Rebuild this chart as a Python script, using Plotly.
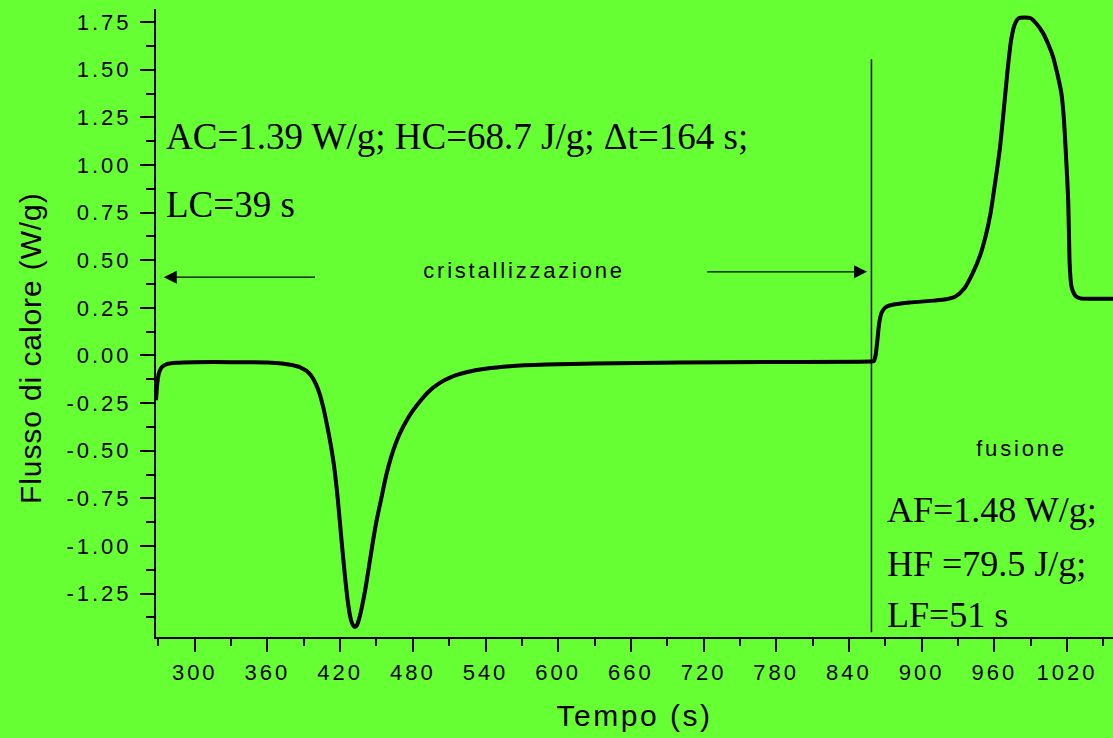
import plotly.graph_objects as go

# DSC trace: heat flow (W/g) versus time (s) — crystallisation then fusion
tempo = [
    268, 269, 270.5, 273, 277, 285, 300, 330, 360, 372, 380, 387, 392, 396, 400,
    403, 406, 409, 412, 415, 418, 421, 424, 426.5, 429, 431, 432.5, 434, 436,
    438, 441, 444, 447, 450, 454, 458, 462, 466, 470, 475, 480, 486, 493, 502,
    512, 525, 540, 560, 590, 630, 700, 780, 858, 860.5, 862, 863.5, 865, 867,
    870, 875, 890, 910, 920, 928, 935, 942, 948, 953, 957, 961, 964.5, 968, 971,
    974, 977, 980, 985, 990, 995, 1000, 1004.5, 1008.5, 1012, 1015.4, 1017,
    1018.2, 1019.6, 1021, 1022.3, 1023.5, 1025, 1027.5, 1031, 1040, 1058,
]
flusso = [
    -0.235, -0.15, -0.09, -0.06, -0.045, -0.038, -0.035, -0.035, -0.037, -0.042,
    -0.05, -0.062, -0.08, -0.105, -0.15, -0.2, -0.27, -0.36, -0.46, -0.58, -0.75,
    -0.96, -1.16, -1.3, -1.39, -1.42, -1.425, -1.415, -1.375, -1.32, -1.22, -1.1,
    -0.98, -0.87, -0.75, -0.63, -0.535, -0.46, -0.4, -0.34, -0.29, -0.24, -0.19,
    -0.145, -0.112, -0.087, -0.07, -0.057, -0.048, -0.042, -0.037, -0.034, -0.032,
    -0.03, 0.0, 0.08, 0.17, 0.225, 0.252, 0.265, 0.278, 0.288, 0.295, 0.31, 0.35,
    0.43, 0.52, 0.63, 0.75, 0.92, 1.08, 1.3, 1.5, 1.66, 1.74, 1.77, 1.775, 1.77,
    1.74, 1.695, 1.635, 1.568, 1.48, 1.376, 1.28, 1.166, 1.0, 0.816, 0.47, 0.37,
    0.335, 0.31, 0.3, 0.298, 0.298,
]

y_tick_vals = [-1.25, -1.0, -0.75, -0.5, -0.25, 0.0, 0.25, 0.5, 0.75, 1.0, 1.25, 1.5, 1.75]
y_tick_text = ["-1.25", "-1.00", "-0.75", "-0.50", "-0.25", "0.00", "0.25", "0.50",
               "0.75", "1.00", "1.25", "1.50", "1.75"]

x_range = [268, 1058]
y_range = [-1.478, 1.819]

# boundary between the two stages
separatore_x = 858.6
separatore_y = [-1.453, 1.555]

BG = "#66ff33"
SANS = "Liberation Sans, Arial, sans-serif"
SERIF = "Liberation Serif, Times New Roman, serif"

fig = go.Figure()
fig.add_trace(go.Scatter(
    x=tempo, y=flusso, mode="lines",
    line=dict(color="black", width=4, shape="spline", smoothing=0.6),
    hoverinfo="skip", showlegend=False,
))
fig.add_trace(go.Scatter(
    x=[separatore_x, separatore_x], y=separatore_y, mode="lines",
    line=dict(color="black", width=1.5), hoverinfo="skip", showlegend=False,
))

axis_common = dict(
    showgrid=False, zeroline=False, showline=True, linecolor="black", linewidth=2,
    ticks="outside", tickwidth=2, tickcolor="black", mirror=False,
    tickfont=dict(family=SANS, size=22, color="black"),
)

fig.update_xaxes(
    range=x_range, tickmode="linear", tick0=0, dtick=60, ticklen=13,
    minor=dict(ticks="outside", dtick=30, tick0=0, ticklen=7, tickwidth=2, tickcolor="black"),
    title=dict(text="Tempo (s)", font=dict(family=SANS, size=30, color="black"), standoff=21),
    ticklabelstandoff=2,
    **axis_common,
)
fig.update_yaxes(
    range=y_range, tickmode="array", tickvals=y_tick_vals, ticktext=y_tick_text,
    ticklen=14,
    minor=dict(ticks="outside", dtick=0.125, tick0=0, ticklen=8, tickwidth=2, tickcolor="black"),
    ticklabelstandoff=4,
    **axis_common,
)

annotations = [
    dict(x=275, y=1.152, text="AC=1.39 W/g; HC=68.7 J/g; \u0394t=164 s;",
         font=dict(family=SERIF, size=37, color="black"), xanchor="left", yanchor="middle"),
    dict(x=275, y=0.792, text="LC=39 s",
         font=dict(family=SERIF, size=37, color="black"), xanchor="left", yanchor="middle"),
    dict(x=571.9, y=0.448, text="cristallizzazione",
         font=dict(family=SANS, size=22, color="black"), xanchor="center", yanchor="middle"),
    dict(x=982.7, y=-0.489, text="fusione",
         font=dict(family=SANS, size=22, color="black"), xanchor="center", yanchor="middle"),
    dict(x=869.5, y=-0.8125, text="AF=1.48 W/g;",
         font=dict(family=SERIF, size=36, color="black"), xanchor="left", yanchor="middle"),
    dict(x=869.5, y=-1.096, text="HF =79.5 J/g;",
         font=dict(family=SERIF, size=36, color="black"), xanchor="left", yanchor="middle"),
    dict(x=869.5, y=-1.364, text="LF=51 s",
         font=dict(family=SERIF, size=36, color="black"), xanchor="left", yanchor="middle"),
]
for a in annotations:
    a.update(xref="x", yref="y", showarrow=False)

# stage arrows
arrows = [
    dict(x=274.4, y=0.411, ax=400.5, ay=0.411),
    dict(x=855.0, y=0.439, ax=721.8, ay=0.439),
]
for a in arrows:
    a.update(xref="x", yref="y", axref="x", ayref="y", text="", showarrow=True,
             arrowhead=2, arrowsize=2, arrowwidth=1.3, arrowcolor="black", standoff=0)
    annotations.append(a)

# vertical axis title
annotations.append(dict(
    xref="paper", yref="paper", x=-0.1317, y=0.46, text="Flusso di calore (W/g)",
    textangle=-90, showarrow=False, xanchor="center", yanchor="middle",
    font=dict(family=SANS, size=30, color="black"),
))

fig.update_layout(
    width=1113, height=738,
    margin=dict(l=156, r=0, t=9, b=101, pad=0),
    paper_bgcolor=BG, plot_bgcolor=BG,
    annotations=annotations,
    showlegend=False,
)

# wider tracking for the sans-serif labels
spacing_js = """
var gd = document.getElementById('{plot_id}');
function track(nodes, v) {
  nodes.forEach(function (t) { t.setAttribute('letter-spacing', v); t.style.letterSpacing = v; });
}
track(gd.querySelectorAll('.xtick text, .ytick text'), '3px');
track(gd.querySelectorAll('.g-xtitle text'), '2.5px');
gd.querySelectorAll('.annotation-text').forEach(function (t) {
  var s = t.textContent;
  if (s === 'cristallizzazione' || s === 'fusione') track([t], '2.8px');
  else if (s.indexOf('Flusso') === 0) track([t], '0.9px');
});
"""

fig.write_html("out.html", post_script=spacing_js)
